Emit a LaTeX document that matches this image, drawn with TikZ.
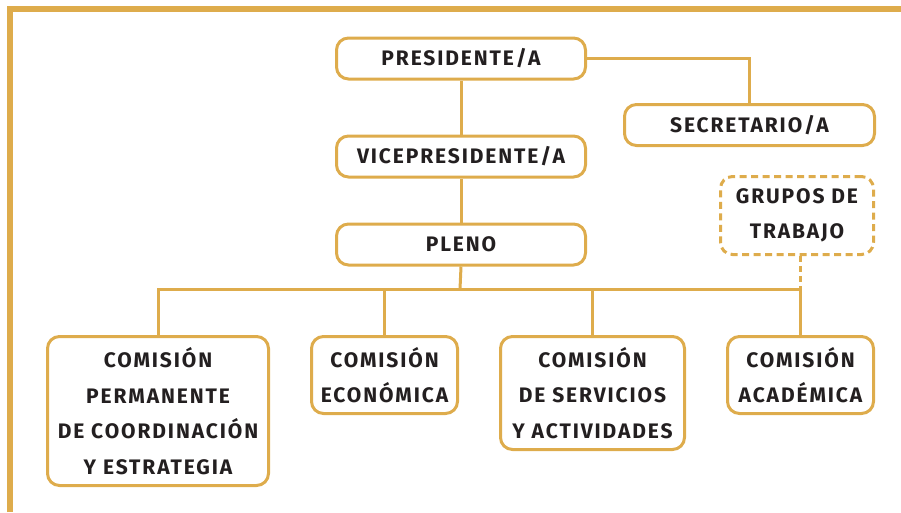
\documentclass[tikz,border=0pt]{standalone}
\usepackage{fontspec}
\usepackage{tikz}
\usetikzlibrary{positioning}
\newfontfamily\orgfont{Fira Sans}[LetterSpace=9]
\definecolor{gold}{RGB}{222,172,76}
\definecolor{ink}{RGB}{35,31,32}

\begin{document}
\begin{tikzpicture}[x=1pt, y=-1pt]
        % Define node styles
        \tikzset{
          cargo/.style={draw=gold, line width=3pt, rounded corners=12pt, fill=white,
            text=ink, align=center, inner sep=0pt,
            font=\orgfont\bfseries\fontsize{21}{35.5}\selectfont},
          enlace/.style={draw=gold, line width=3pt},
          marco/.style={draw=gold, line width=5.5pt}
        }
        \useasboundingbox (0,0) rectangle (901,512);

        % Frame
        \draw[marco] (10,512) -- (10,9) -- (901,9);

        % Draw the nodes
        \node[cargo, minimum width=249pt, minimum height=41pt] (pres) at (461,58.5) {PRESIDENTE/A};
        \node[cargo, minimum width=249pt, minimum height=41pt, below=54pt of pres] (vice) {VICEPRESIDENTE/A};
        \node[cargo, minimum width=249pt, minimum height=41pt, below=44pt of vice] (pleno) {PLENO};
        \node[cargo, minimum width=250pt, minimum height=41pt] (sec) at (749.5,125) {SECRETARIO/A};
        \node[cargo, dashed, dash pattern=on 7pt off 4.5pt, minimum width=153pt, minimum height=78pt] (grupos) at (797,215.5) {GRUPOS DE\\TRABAJO};

        \node[cargo, minimum width=221pt, minimum height=149pt] (perm) at (158,411)
            {COMISIÓN\\PERMANENTE\\DE COORDINACIÓN\\Y ESTRATEGIA};
        \node[cargo, minimum width=146pt, minimum height=77pt] (econ) at (384.5,375) {COMISIÓN\\ECONÓMICA};
        \node[cargo, minimum width=184pt, minimum height=113pt] (serv) at (592.5,393)
            {COMISIÓN\\DE SERVICIOS\\Y ACTIVIDADES};
        \node[cargo, minimum width=146pt, minimum height=77pt] (acad) at (800.5,375) {COMISIÓN\\ACADÉMICA};

        \coordinate (bus) at (460,289);

        % Connectors
        \draw[enlace] (pres.east) -| (sec.north);
        \draw[enlace] (pres) -- (vice);
        \draw[enlace] (vice) -- (pleno);
        \draw[enlace] (pleno.south) -- (bus);
        \draw[enlace] (perm.north) |- (acad.north |- bus) -- (acad.north);
        \draw[enlace] (econ.north) -- (econ.north |- bus);
        \draw[enlace] (serv.north) -- (serv.north |- bus);
        \draw[enlace, dash pattern=on 6pt off 4pt] (acad.north |- grupos.south) -- (acad.north |- bus);
    \end{tikzpicture}
\end{document}
